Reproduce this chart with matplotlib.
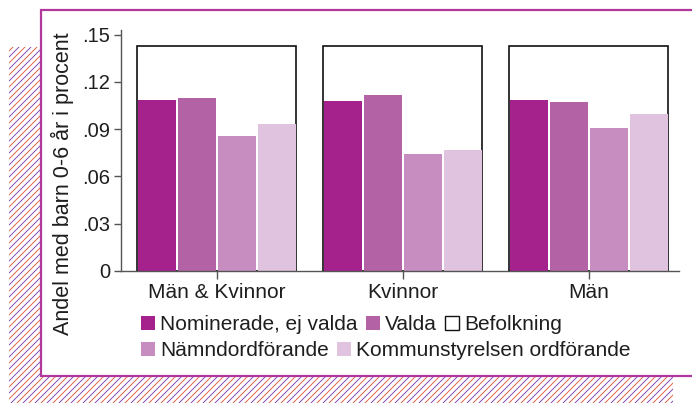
import numpy as np
import matplotlib
matplotlib.use('Agg')
from matplotlib import pyplot as plt
from matplotlib.patches import Rectangle, Patch

## data
groups = ['Män & Kvinnor', 'Kvinnor', 'Män']
nominerade = [0.1086, 0.1079, 0.1086]
valda = [0.1098, 0.1117, 0.1073]
namnd = [0.0857, 0.0743, 0.0908]
ks_ordf = [0.0933, 0.0768, 0.0997]
befolkning = [0.1426, 0.1426, 0.1426]

yticks = [0, 0.03, 0.06, 0.09, 0.12, 0.15]
ytick_labels = ['0', '.03', '.06', '.09', '.12', '.15']

series = [nominerade, valda, namnd, ks_ordf]
names = ['Nominerade, ej valda', 'Valda', 'Nämndordförande',
         'Kommunstyrelsen ordförande']
colors = ['#A5228D', '#B462A6', '#C88DC0', '#E0C3DF']

plt.rcParams['font.family'] = ['Liberation Sans', 'DejaVu Sans']
txt = '#1e1e1e'

W, H = 692, 403
fig = plt.figure(figsize=(W / 100, H / 100), dpi=100)

## background: hatched block and white panel
bg = fig.add_axes([0, 0, 1, 1], zorder=0)
bg.set_xlim(0, W)
bg.set_ylim(H, 0)
bg.axis('off')
clip = Rectangle((9, 47), 673 - 9, H - 47 + 5, transform=bg.transData,
                 facecolor='none', edgecolor='none')
bg.add_patch(clip)
hatch_cols = ['#DE5C3C', '#7842B2']
for n, c in enumerate(np.arange(0, W + H + 20, 6.0)):
    ln, = bg.plot([c - H - 20, c], [H + 20, 0], color=hatch_cols[n % 2],
                  lw=0.65, solid_capstyle='butt')
    ln.set_clip_path(clip)
bg.add_patch(Rectangle((41, 10), 700, 366, facecolor='white',
                       edgecolor='#B0389C', lw=1.6, zorder=3))

## main chart
left, right, top, bottom = 121, 679, 30, 271
ax = fig.add_axes([left / W, 1 - bottom / H, (right - left) / W,
                   (bottom - top) / H], zorder=2)
ax.set_facecolor('none')

x = np.arange(len(groups))
step = 0.215
width = 0.204
ax.bar(x, befolkning, width=0.855, facecolor='white', edgecolor='#111111',
       lw=1.2, zorder=1)
for i, (vals, col) in enumerate(zip(series, colors)):
    ax.bar(x + (i - 1.5) * step, vals, width=width, color=col, zorder=2)

ax.set_xlim(-0.516, 2.484)
ax.set_ylim(0, 0.15 * (bottom - top) / 236.3)
ax.set_yticks(yticks)
ax.set_yticklabels(ytick_labels)
ax.set_xticks(x)
ax.set_xticklabels(groups)
for s in ['top', 'right']:
    ax.spines[s].set_visible(False)
for s in ['left', 'bottom']:
    ax.spines[s].set_color('#555555')
    ax.spines[s].set_linewidth(1)
ax.tick_params(axis='y', labelsize=14.5, colors='#555555', labelcolor=txt,
               length=5, width=1, pad=3)
ax.tick_params(axis='x', labelsize=15, colors='#555555', labelcolor=txt,
               length=6, width=1, pad=3)

fig.text(62 / W, 1 - 184 / H, 'Andel med barn 0-6 år i procent',
         rotation=90, ha='center', va='center', fontsize=15.5, color=txt)

## legend, two free-flowing rows
h1 = [Patch(facecolor=colors[0]), Patch(facecolor=colors[1]),
      Patch(facecolor='white', edgecolor='#111111', lw=1)]
l1 = [names[0], names[1], 'Befolkning']
h2 = [Patch(facecolor=colors[2]), Patch(facecolor=colors[3])]
l2 = [names[2], names[3]]
kw = dict(frameon=False, fontsize=15, handlelength=0.68, handleheight=0.68,
          handletextpad=0.25, columnspacing=0.38, borderpad=0,
          borderaxespad=0, loc='center left', labelcolor=txt)
fig.legend(h1, l1, ncol=3, bbox_to_anchor=(141 / W, 1 - 325 / H), **kw)
fig.legend(h2, l2, ncol=2, bbox_to_anchor=(141 / W, 1 - 351 / H), **kw)

plt.savefig('out.png', dpi=100)
